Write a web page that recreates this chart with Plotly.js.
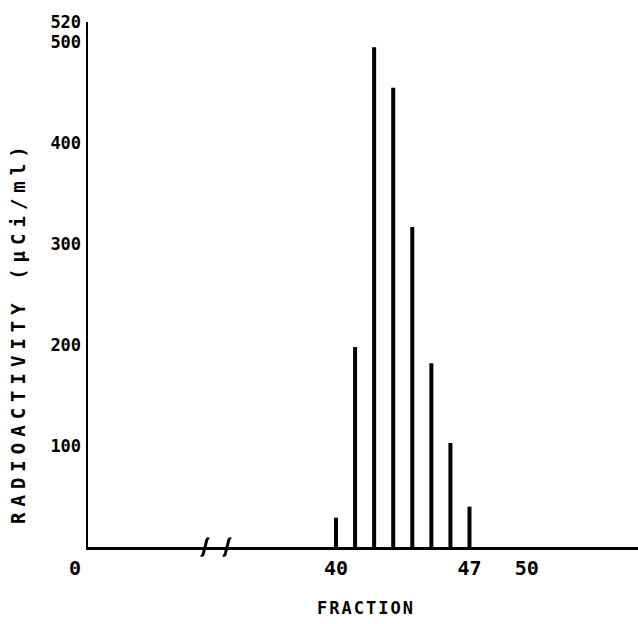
<!DOCTYPE html>
<html>
<head>
<meta charset="utf-8">
<script src="https://cdn.plot.ly/plotly-3.0.1.min.js"></script>
<style>
  html, body { margin: 0; padding: 0; background: #fff; }
  #chart { width: 638px; height: 624px; }
  g.annotation[data-index="0"] text { letter-spacing: 6px; }
  g.annotation[data-index="1"] text { letter-spacing: 2px; }
</style>
</head>
<body>
<div id="chart"></div>
<script>
// ---- data ----
const fractions = [40, 41, 42, 43, 44, 45, 46, 47];
const activity  = [29, 198, 495, 455, 317, 182, 103, 40];
const yTickVals = [100, 200, 300, 400, 500, 520];
const xTickLeft = [0];
const xTickRight = [40, 47, 50];
const xTitle = "FRACTION";
const yTitle = "RADIOACTIVITY (µCi/ml)";

// ---- styling / layout ----
const FONT = "DejaVu Sans Mono";
const W = 638, H = 624;
const M = {l: 88, r: 0, t: 22, b: 77};
const PW = W - M.l - M.r, PH = H - M.t - M.b;
const px = v => (v - M.l) / PW;          // pixel x -> paper
const py = v => (H - M.b - v) / PH;      // pixel y -> paper (from plot bottom)

// axis-break marks (two small "ʃ" strokes on the baseline)
function breakMark(cx) {
  const pts = [
    [cx - 4, 555], [cx - 1, 557], [cx - 1, 548], [cx, 547],
    [cx + 1, 546], [cx + 1, 537], [cx + 4, 539]
  ].map(p => [px(p[0]), py(p[1])]);
  const f = p => p[0].toFixed(5) + "," + p[1].toFixed(5);
  return {
    type: "path", xref: "paper", yref: "paper",
    path: "M" + f(pts[0]) + " C" + f(pts[1]) + " " + f(pts[2]) + " " + f(pts[3]) +
          " C" + f(pts[4]) + " " + f(pts[5]) + " " + f(pts[6]),
    line: {color: "#000", width: 3}
  };
}

const splitPaper = px(218);
const pxPerUnit = 19.07;
const r2start = 40 - (336 - 218) / pxPerUnit;
const r2end = r2start + (638 - 218) / pxPerUnit;

const xTickFont = {family: FONT, size: 20, color: "#000", weight: "bold"};
const yTickFont = {family: FONT, size: 17, color: "#000", weight: "bold"};

const bars = {
  type: "bar",
  x: fractions,
  y: activity,
  xaxis: "x2",
  yaxis: "y",
  width: 0.21,
  marker: {color: "#000", line: {width: 0}},
  hoverinfo: "x+y"
};
// empty trace so the left (pre-break) axis segment is drawn with the y axis
const leftSegment = {
  type: "scatter", mode: "markers",
  x: [null], y: [null],
  xaxis: "x", yaxis: "y",
  hoverinfo: "skip", showlegend: false
};

const axisLine = {showline: true, linecolor: "#000", linewidth: 2.5,
                  showgrid: false, zeroline: false, ticks: "", fixedrange: true};

const layout = {
  width: W, height: H,
  margin: M,
  paper_bgcolor: "#fff",
  plot_bgcolor: "#fff",
  showlegend: false,
  xaxis: Object.assign({}, axisLine, {
    domain: [0, splitPaper],
    range: [0, 10],
    tickvals: xTickLeft,
    tickfont: xTickFont,
    ticklabelshift: -13,
    ticklabelstandoff: 1,
    anchor: "y"
  }),
  xaxis2: Object.assign({}, axisLine, {
    domain: [splitPaper, 1],
    range: [r2start, r2end],
    tickvals: xTickRight,
    tickfont: xTickFont,
    ticklabelstandoff: 1,
    anchor: "y"
  }),
  yaxis: Object.assign({}, axisLine, {
    range: [0, 520],
    tickvals: yTickVals,
    tickfont: yTickFont,
    ticklabelstandoff: 1,
    anchor: "x"
  }),
  shapes: [breakMark(205), breakMark(227)],
  annotations: [
    {
      text: yTitle, xref: "paper", yref: "paper",
      x: px(18), y: py(332), xanchor: "center", yanchor: "middle",
      textangle: -90, showarrow: false,
      font: {family: FONT, size: 19, color: "#000", weight: "bold"}
    },
    {
      text: xTitle, xref: "paper", yref: "paper",
      x: px(366), y: py(608), xanchor: "center", yanchor: "middle",
      showarrow: false,
      font: {family: FONT, size: 17, color: "#000", weight: "bold"}
    }
  ]
};

Plotly.newPlot("chart", [leftSegment, bars], layout, {displayModeBar: false, staticPlot: true});
</script>
</body>
</html>
